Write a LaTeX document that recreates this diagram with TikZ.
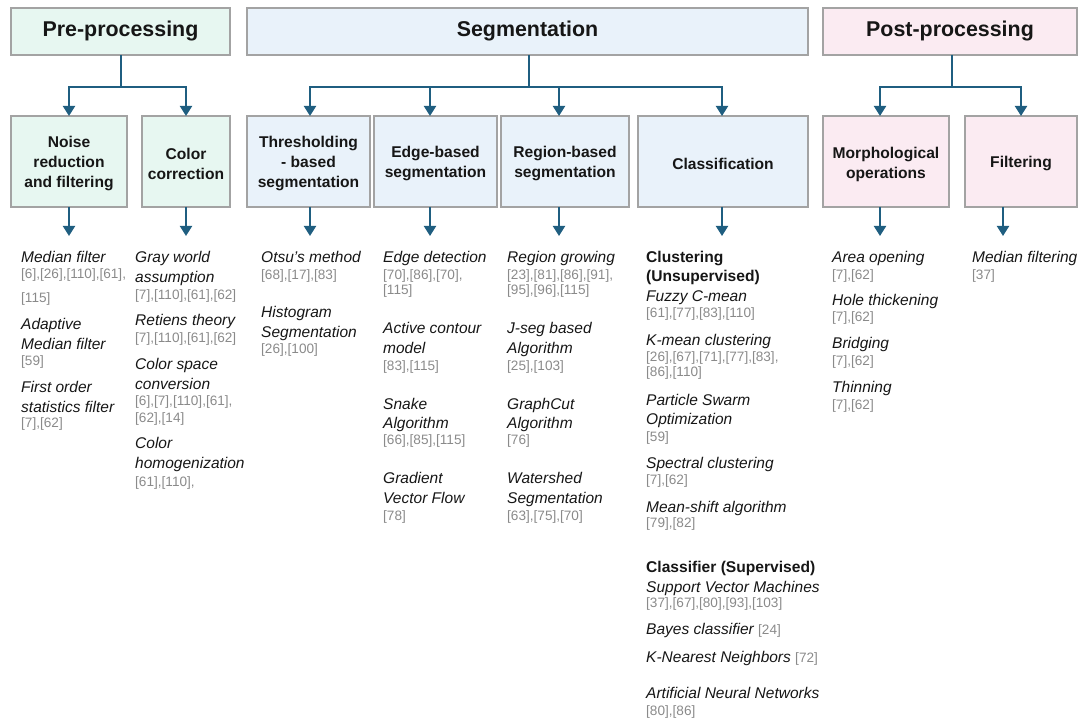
\documentclass[tikz,border=0pt]{standalone}
\usepackage{fontspec}
\setmainfont{Liberation Sans}
\usetikzlibrary{arrows.meta}
\definecolor{prefill}{HTML}{E7F7F1}
\definecolor{segfill}{HTML}{E9F2FA}
\definecolor{postfill}{HTML}{FBEBF2}
\definecolor{edgegray}{HTML}{A3A3A3}
\definecolor{link}{HTML}{1F5E80}
\definecolor{refgray}{HTML}{8A8A8A}
\definecolor{ink}{HTML}{161616}
\newcommand\refpart[1]{{\color{refgray}\fontsize{13.6}{16}\selectfont\upshape #1}}

\begin{document}
\begin{tikzpicture}[x=1pt,y=-1pt,
  box/.style={draw=edgegray, line width=1.2pt, inner sep=0pt, outer sep=0pt, align=center, text=ink},
  hdr/.style={box, minimum height=47, font=\fontsize{21.4}{26}\selectfont\bfseries},
  sub/.style={box, minimum height=91},
  subtext/.style={inner sep=0pt, align=center, text=ink, yshift=-2.5pt, font=\fontsize{15.6}{20}\selectfont\bfseries},
  conn/.style={draw=link, line width=2pt},
  arr/.style={conn, -{Triangle[width=12pt,length=10pt]}},
  ttl/.style={anchor=base west, inner sep=0pt, text=ink, font=\fontsize{15.5}{19}\selectfont\itshape},
  ref/.style={anchor=base west, inner sep=0pt, text=refgray, font=\fontsize{13.6}{16}\selectfont},
  grp/.style={anchor=base west, inner sep=0pt, text=ink, font=\fontsize{15.6}{19}\selectfont\bfseries}]

\useasboundingbox (0,0) rectangle (1086,719);

% ---- stage headers ----
\node[hdr, fill=prefill,  minimum width=219] (pre)  at (120.5,31.5) {Pre-processing};
\node[hdr, fill=segfill,  minimum width=561] (seg)  at (527.5,31.5) {Segmentation};
\node[hdr, fill=postfill, minimum width=254] (post) at (950,31.5)   {Post-processing};

% ---- method groups: frames, then their captions ----
\node[sub, fill=prefill,  minimum width=116] (noise)  at (69,161.5)    {};
\node[sub, fill=prefill,  minimum width=88]  (color)  at (186,161.5)   {};
\node[sub, fill=segfill,  minimum width=123] (thresh) at (308.5,161.5) {};
\node[sub, fill=segfill,  minimum width=123] (edge)   at (435.5,161.5) {};
\node[sub, fill=segfill,  minimum width=128] (region) at (565,161.5)   {};
\node[sub, fill=segfill,  minimum width=170] (class)  at (723,161.5)   {};
\node[sub, fill=postfill, minimum width=126] (morph)  at (886,161.5)   {};
\node[sub, fill=postfill, minimum width=112] (filt)   at (1021,161.5)  {};

\node[subtext] (noiseL)  at (noise.center)  {Noise\\reduction\\and filtering};
\node[subtext] (colorL)  at (color.center)  {Color\\correction};
\node[subtext] (threshL) at (thresh.center) {Thresholding\\- based\\segmentation};
\node[subtext] (edgeL)   at (edge.center)   {Edge-based\\segmentation};
\node[subtext] (regionL) at (region.center) {Region-based\\segmentation};
\node[subtext] (classL)  at (class.center)  {Classification};
\node[subtext] (morphL)  at (morph.center)  {Morphological\\operations};
\node[subtext] (filtL)   at (filt.center)   {Filtering};

% ---- branching connectors ----
\coordinate (preJ)  at (121,87);
\coordinate (segJ)  at (529,87);
\coordinate (postJ) at (952,87);
\draw[conn] (pre.south -| preJ) -- (preJ);
\draw[arr] (preJ) -| (noise.north);
\draw[arr] (preJ) -| (color.north);
\draw[conn] (seg.south -| segJ) -- (segJ);
\draw[arr] (segJ) -| ([xshift=1.5pt]thresh.north);
\draw[arr] (segJ) -| ([xshift=-5.5pt]edge.north);
\draw[arr] (segJ) -| ([xshift=-6pt]region.north);
\draw[arr] (segJ) -| ([xshift=-1pt]class.north);
\draw[conn] (post.south -| postJ) -- (postJ);
\draw[arr] (postJ) -| ([xshift=-6pt]morph.north);
\draw[arr] (postJ) -| (filt.north);

% ---- arrows down to the method lists ----
\coordinate (noiseT)  at (69,236);
\coordinate (colorT)  at (186,236);
\coordinate (threshT) at (310,236);
\coordinate (edgeT)   at (430,236);
\coordinate (regionT) at (559,236);
\coordinate (classT)  at (722,236);
\coordinate (morphT)  at (880,236);
\coordinate (filtT)   at (1003,236);
\draw[arr] (noise.south -| noiseT) -- (noiseT);
\draw[arr] (color.south -| colorT) -- (colorT);
\draw[arr] (thresh.south -| threshT) -- (threshT);
\draw[arr] (edge.south -| edgeT) -- (edgeT);
\draw[arr] (region.south -| regionT) -- (regionT);
\draw[arr] (class.south -| classT) -- (classT);
\draw[arr] (morph.south -| morphT) -- (morphT);
\draw[arr] (filt.south -| filtT) -- (filtT);

% ---- noise reduction and filtering ----
\node[ttl] (a1) at (21,262.5) {Median filter};
\node[ref] (a2) at (21,278)   {[6],[26],[110],[61],};
\node[ref] (a3) at (21,302.5) {[115]};
\node[ttl] (a4) at (21,329)   {Adaptive};
\node[ttl] (a5) at (21,349)   {Median filter};
\node[ref] (a6) at (21,365.5) {[59]};
\node[ttl] (a7) at (21,392)   {First order};
\node[ttl] (a8) at (21,412)   {statistics filter};
\node[ref] (a9) at (21,427.5) {[7],[62]};

% ---- color correction ----
\node[ttl] (b1)  at (135,262.5) {Gray world};
\node[ttl] (b2)  at (135,282.5) {assumption};
\node[ref] (b3)  at (135,299.5) {[7],[110],[61],[62]};
\node[ttl] (b4)  at (135,325)   {Retiens theory};
\node[ref] (b5)  at (135,342)   {[7],[110],[61],[62]};
\node[ttl] (b6)  at (135,369)   {Color space};
\node[ttl] (b7)  at (135,389)   {conversion};
\node[ref] (b8)  at (135,405.5) {[6],[7],[110],[61],};
\node[ref] (b9)  at (135,422)   {[62],[14]};
\node[ttl] (b10) at (135,448)   {Color};
\node[ttl] (b11) at (135,468)   {homogenization};
\node[ref] (b12) at (135,486)   {[61],[110],};

% ---- thresholding ----
\node[ttl] (c1) at (261,262.5) {Otsu’s method};
\node[ref] (c2) at (261,279.5) {[68],[17],[83]};
\node[ttl] (c3) at (261,317.5) {Histogram};
\node[ttl] (c4) at (261,337.5) {Segmentation};
\node[ref] (c5) at (261,353.5) {[26],[100]};

% ---- edge-based ----
\node[ttl] (d1)  at (383,262.5) {Edge detection};
\node[ref] (d2)  at (383,279.5) {[70],[86],[70],};
\node[ref] (d3)  at (383,294.5) {[115]};
\node[ttl] (d4)  at (383,333.5) {Active contour};
\node[ttl] (d5)  at (383,353)   {model};
\node[ref] (d6)  at (383,370)   {[83],[115]};
\node[ttl] (d7)  at (383,409)   {Snake};
\node[ttl] (d8)  at (383,428.5) {Algorithm};
\node[ref] (d9)  at (383,444.5) {[66],[85],[115]};
\node[ttl] (d10) at (383,483.5) {Gradient};
\node[ttl] (d11) at (383,503)   {Vector Flow};
\node[ref] (d12) at (383,520)   {[78]};

% ---- region-based ----
\node[ttl] (e1)  at (507,262.5) {Region growing};
\node[ref] (e2)  at (507,279.5) {[23],[81],[86],[91],};
\node[ref] (e3)  at (507,294.5) {[95],[96],[115]};
\node[ttl] (e4)  at (507,333.5) {J-seg based};
\node[ttl] (e5)  at (507,353)   {Algorithm};
\node[ref] (e6)  at (507,370)   {[25],[103]};
\node[ttl] (e7)  at (507,409)   {GraphCut};
\node[ttl] (e8)  at (507,428.5) {Algorithm};
\node[ref] (e9)  at (507,444.5) {[76]};
\node[ttl] (e10) at (507,483.5) {Watershed};
\node[ttl] (e11) at (507,503)   {Segmentation};
\node[ref] (e12) at (507,520)   {[63],[75],[70]};

% ---- classification ----
\node[grp] (f1)  at (646,262.5) {Clustering};
\node[grp] (f2)  at (646,281.5) {(Unsupervised)};
\node[ttl] (f3)  at (646,301)   {Fuzzy C-mean};
\node[ref] (f4)  at (646,317.5) {[61],[77],[83],[110]};
\node[ttl] (f5)  at (646,345)   {K-mean clustering};
\node[ref] (f6)  at (646,361.5) {[26],[67],[71],[77],[83],};
\node[ref] (f7)  at (646,376.5) {[86],[110]};
\node[ttl] (f8)  at (646,405)   {Particle Swarm};
\node[ttl] (f9)  at (646,424)   {Optimization};
\node[ref] (f10) at (646,441.5) {[59]};
\node[ttl] (f11) at (646,468)   {Spectral clustering};
\node[ref] (f12) at (646,484.5) {[7],[62]};
\node[ttl] (f13) at (646,512)   {Mean-shift algorithm};
\node[ref] (f14) at (646,527.5) {[79],[82]};
\node[grp] (f15) at (646,572)   {Classifier (Supervised)};
\node[ttl] (f16) at (646,592)   {Support Vector Machines};
\node[ref] (f17) at (646,607.5) {[37],[67],[80],[93],[103]};
\node[ttl] (f18) at (646,634)   {Bayes classifier \refpart{[24]}};
\node[ttl] (f19) at (646,662)   {K-Nearest Neighbors \refpart{[72]}};
\node[ttl] (f20) at (646,698)   {Artificial Neural Networks};
\node[ref] (f21) at (646,715.5) {[80],[86]};

% ---- morphological operations ----
\node[ttl] (g1) at (832,262)   {Area opening};
\node[ref] (g2) at (832,279.5) {[7],[62]};
\node[ttl] (g3) at (832,305)   {Hole thickening};
\node[ref] (g4) at (832,321.5) {[7],[62]};
\node[ttl] (g5) at (832,348)   {Bridging};
\node[ref] (g6) at (832,365)   {[7],[62]};
\node[ttl] (g7) at (832,392)   {Thinning};
\node[ref] (g8) at (832,409)   {[7],[62]};

% ---- filtering ----
\node[ttl] (h1) at (972,262)   {Median filtering};
\node[ref] (h2) at (972,279.5) {[37]};

\end{tikzpicture}
\end{document}
